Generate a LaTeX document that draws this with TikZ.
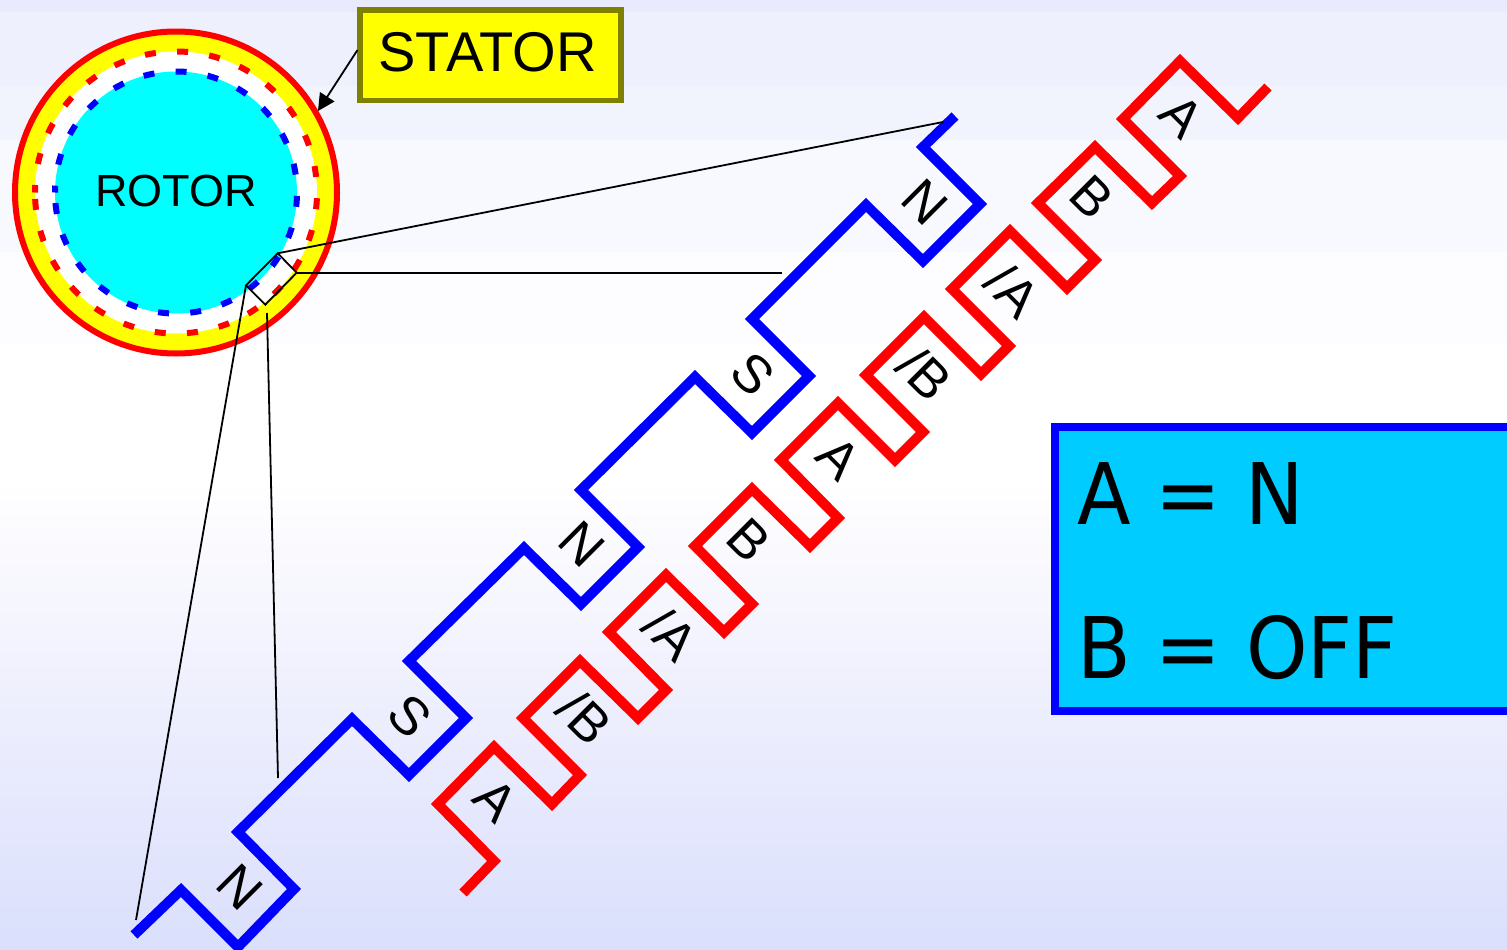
\documentclass[tikz,border=0pt]{standalone}
\usepackage{fontspec}
\setmainfont{Liberation Sans}
\newfontfamily\legendfont{DejaVu Sans}
\usetikzlibrary{arrows.meta}
\definecolor{stoliveline}{HTML}{808000}
\definecolor{legendfill}{HTML}{00CCFF}
\definecolor{pureyellow}{HTML}{FFFF00}
\definecolor{purecyan}{HTML}{00FFFF}
\definecolor{purered}{HTML}{FF0000}
\definecolor{pureblue}{HTML}{0000FF}
\definecolor{bgmid}{HTML}{EDEEFD}
\definecolor{bgend}{HTML}{DADFFC}
\tikzset{
  winding/.style={line width=10pt,miter limit=10,line join=miter},
  thinline/.style={black,line width=1.8pt},
  dashring/.style={line width=6pt,dash pattern=on 11pt off 21.3pt},
  coil/.style={inner sep=0pt,rotate=-45,font=\fontsize{53}{53}\selectfont},
  legendtext/.style={inner sep=0pt,anchor=base west,xscale=0.92,font=\legendfont\fontsize{85}{85}\selectfont},
}
\begin{document}
\begin{tikzpicture}[x=1pt,y=-1pt]
\useasboundingbox (0,0) rectangle (1507,950);
\clip (0,0) rectangle (1507,950);
% banded background
\foreach \a/\b/\c in {0/12/E9EBFC,12/86/EEF0FD,86/140/F1F3FD,140/252/F8F9FE,252/343/FDFDFF,343/480/FFFFFF}{
  \definecolor{bandc}{HTML}{\c}
  \fill[bandc] (0,\a) rectangle (1507,\b);
}
\shade[top color=white,bottom color=bgend,middle color=bgmid,shading angle=0] (0,480) rectangle (1507,950);
% stator and rotor
\coordinate (ctr) at (176,192.5);
\node[circle,draw=purered,line width=6pt,fill=pureyellow,minimum size=322pt,inner sep=0pt,outer sep=0pt] (statorring) at (ctr) {};
\node[circle,fill=white,minimum size=282pt,inner sep=0pt] (gap) at (ctr) {};
\draw[purered,dashring] (ctr) ++(182.6:141pt) arc[start angle=182.6,end angle=540,radius=141pt];
\node[circle,fill=purecyan,minimum size=242pt,inner sep=0pt] (rotor) at (ctr) {};
\draw[pureblue,dashring] (ctr) ++(185:121pt) arc[start angle=185,end angle=540,radius=121pt];
\node[inner sep=0pt,font=\fontsize{45}{45}\selectfont] (rotorlabel) at (176,191) {ROTOR};
% stator label
\node[draw=stoliveline,line width=5.3pt,fill=pureyellow,minimum width=261pt,minimum height=90.5pt,inner sep=0pt,outer sep=0pt,anchor=north west] (stator) at (360,10) {};
\node[inner sep=0pt,anchor=base,font=\fontsize{56}{56}\selectfont] (statorlabel) at (487.5,71.3) {STATOR};
\coordinate (statorarrowend) at (318,111);
\coordinate (statorarrowstart) at (357.5,50);
\draw[thinline,-{Triangle[length=17pt,width=17pt]}] (statorarrowstart) -- (statorarrowend);
% windings
\draw[pureblue,winding] (134,935) -- (181,890) -- (238,947) -- (294,889) -- (238,832) -- (352,719) -- (409,775) -- (466,718) -- (409,661) -- (524,548) -- (581,604) -- (638,547) -- (581,490) -- (695,377) -- (752,433) -- (809,376) -- (752,319) -- (866,205) -- (923,261) -- (980,204) -- (923,147) -- (955,116);
\draw[purered,winding] (463,893) -- (494,861) -- (438,804) -- (494,747) -- (552,804) -- (580,775) -- (523,718) -- (580,661) -- (638,718) -- (666,690) -- (609,632) -- (666,575) -- (724,632) -- (752,604) -- (695,546) -- (752,489) -- (810,546) -- (838,518) -- (781,460) -- (838,403) -- (895,460) -- (923,432) -- (866,375) -- (924,317) -- (981,374) -- (1009,346) -- (952,289) -- (1010,231) -- (1067,288) -- (1095,260) -- (1038,203) -- (1095,147) -- (1152,203) -- (1180,176) -- (1123,119) -- (1180,61) -- (1238,118) -- (1268,87);
% coil labels
\node[coil] (n1) at (240,887) {N};
\node[coil] (s1) at (410,716) {S};
\node[coil] (n2) at (582,544) {N};
\node[coil] (s2) at (753,374) {S};
\node[coil] (n3) at (925,202) {N};
\node[coil] (a1) at (496,800) {A};
\node[coil] (b1) at (585,717) {/B};
\node[coil] (a2) at (671,633.5) {/A};
\node[coil] (b2) at (748.5,540) {B};
\node[coil] (a3) at (839,458) {A};
\node[coil] (b3) at (925,373.5) {/B};
\node[coil] (a4) at (1013,290) {/A};
\node[coil] (b4) at (1092,197.5) {B};
\node[coil] (a5) at (1182,116) {A};
% zoom rectangle and lines
\coordinate (c1) at (277.7,253.3);
\coordinate (c2) at (296.7,272.7);
\coordinate (c3) at (265.3,304.7);
\coordinate (c4) at (246,285.3);
\coordinate (e1) at (943,122);
\coordinate (e2) at (782,272.7);
\coordinate (e3) at (136,920);
\coordinate (s3) at (267,313);
\coordinate (e4) at (278,778);
\draw[thinline] (c1) -- (c2) -- (c3) -- (c4) -- cycle;
\draw[thinline] (c1) -- (e1);
\draw[thinline] (c2) -- (e2);
\draw[thinline] (c4) -- (e3);
\draw[thinline] (s3) -- (e4);
% legend
\node[draw=pureblue,line width=8pt,fill=legendfill,minimum width=520pt,minimum height=284pt,inner sep=0pt,outer sep=0pt,anchor=north west] (legend) at (1055,427) {};
\node[legendtext] (l1) at (1077,524.7) {A = N};
\node[legendtext] (l2) at (1077,678.3) {B = OFF};
\end{tikzpicture}
\end{document}
